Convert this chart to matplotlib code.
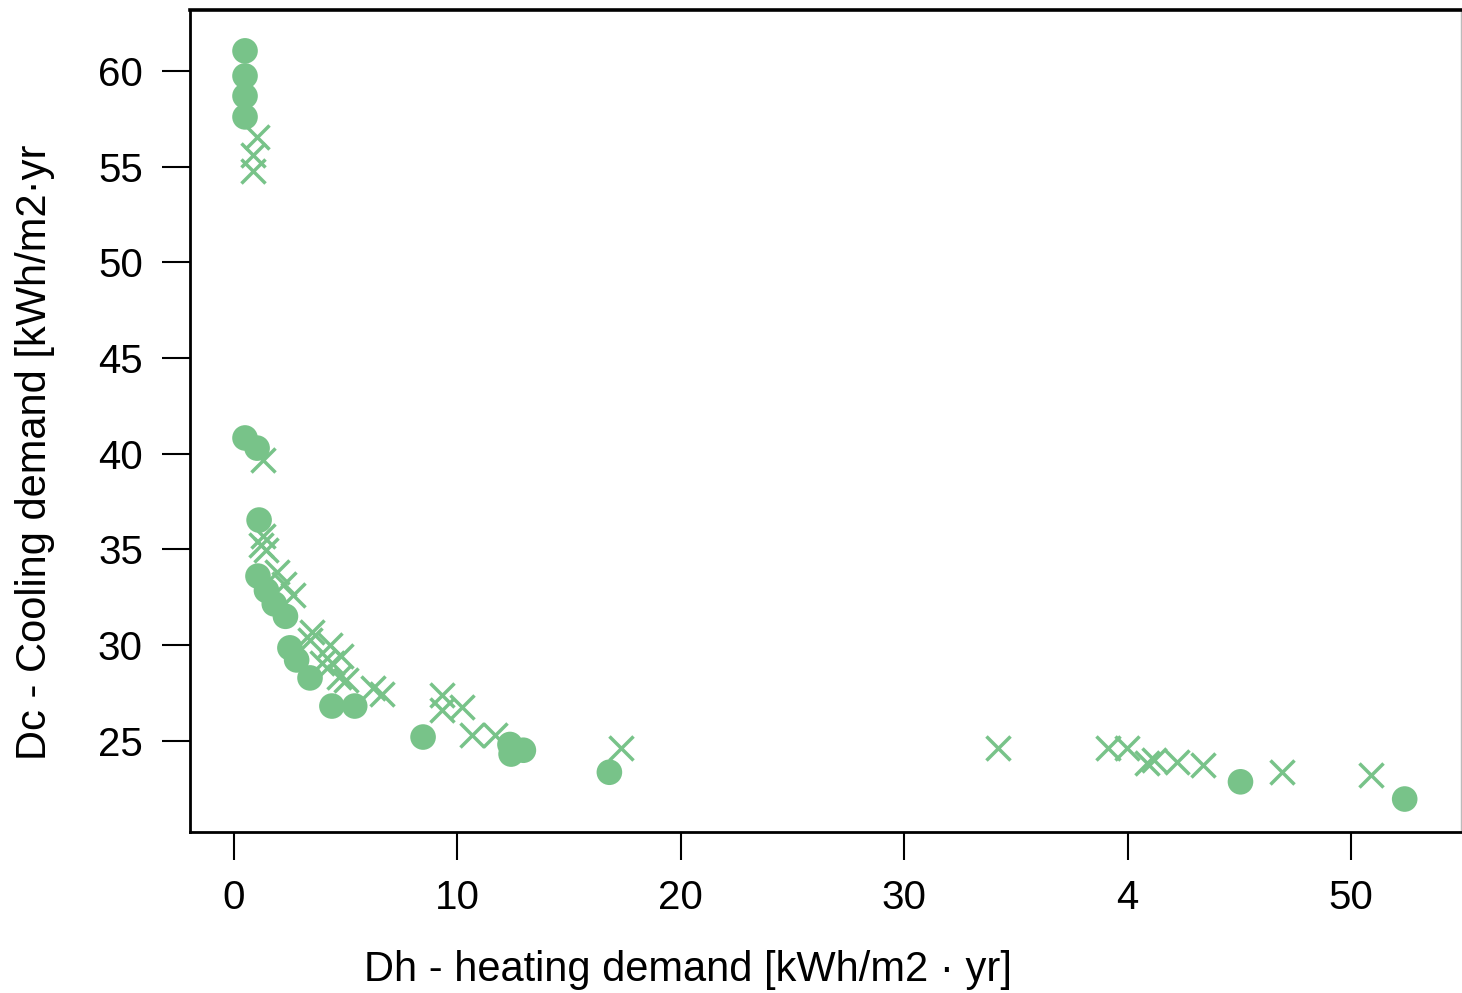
import matplotlib.pyplot as plt

plt.rcParams['font.family'] = ['Liberation Sans', 'DejaVu Sans']

# circles (filled markers)
dot_x = [0.49, 0.49, 0.49, 0.49, 0.49, 1.03, 1.12, 1.07, 1.45, 1.8, 2.3,
         2.5, 2.8, 3.4, 4.38, 5.4, 8.46, 12.35, 12.4, 12.95, 16.8, 45.05, 52.4]
dot_y = [61.05, 59.74, 58.69, 57.6, 40.82, 40.29, 36.53, 33.6, 32.85, 32.15, 31.5,
         29.85, 29.22, 28.28, 26.81, 26.81, 25.19, 24.8, 24.3, 24.5, 23.35, 22.85, 21.95]

# crosses
cross_x = [1.03, 0.85, 0.85, 1.3, 1.3, 1.2, 1.45, 1.9, 2.25, 2.65,
           3.5, 3.4, 4.3, 4.8, 3.95, 4.4, 4.7, 5.0, 6.2, 6.6,
           9.3, 9.3, 10.2, 10.65, 11.7, 17.3, 34.2, 39.1, 39.95,
           40.85, 41.2, 42.2, 43.35, 46.9, 50.9]
cross_y = [56.55, 55.6, 54.77, 39.67, 35.7, 35.25, 34.95, 33.8, 33.2, 32.6,
           30.7, 30.25, 30.0, 29.45, 29.05, 29.05, 28.35, 28.15, 27.75, 27.45,
           27.38, 26.6, 26.75, 25.29, 25.29, 24.61, 24.61, 24.61, 24.61,
           23.83, 23.98, 23.88, 23.72, 23.36, 23.2]

x_ticks = [0, 10, 20, 30, 40, 50]
x_tick_labels = ['0', '10', '20', '30', '4', '50']
y_ticks = [25, 30, 35, 40, 45, 50, 55, 60]

green = '#78c389'

fig = plt.figure(figsize=(14.62, 9.93), dpi=100)
ax = fig.add_axes([0.13, 0.162, 0.869, 0.828])

ax.scatter(cross_x, cross_y, marker='x', s=300, linewidths=2.5, color=green, zorder=2)
ax.scatter(dot_x, dot_y, marker='o', s=340, color=green, edgecolors='none', zorder=3)

ax.set_xlim(-1.97, 54.9)
ax.set_ylim(20.22, 63.19)
ax.set_xticks(x_ticks)
ax.set_xticklabels(x_tick_labels)
ax.set_yticks(y_ticks)

ax.tick_params(axis='both', direction='out', length=20, width=1.5, labelsize=29, pad=14)

ax.spines['top'].set_linewidth(2.6)
ax.spines['left'].set_linewidth(2.0)
ax.spines['bottom'].set_linewidth(2.0)
ax.spines['right'].set_linewidth(1.0)
ax.spines['right'].set_color('#bbbbbb')

ax.set_xlabel('Dh - heating demand [kWh/m2 · yr]', fontsize=30)
ax.set_ylabel('Dc - Cooling demand [kWh/m2·yr', fontsize=30)
ax.xaxis.set_label_coords(0.392, -0.143)
ax.yaxis.set_label_coords(-0.106, 0.462)

fig.savefig('out.png', dpi=100)
